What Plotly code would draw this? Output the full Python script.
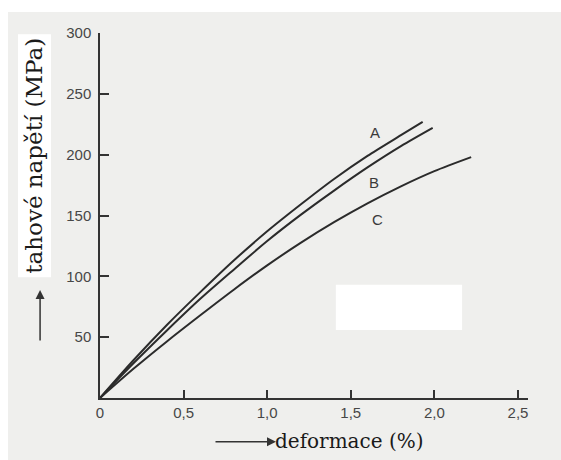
import plotly.graph_objects as go

# Data (deformace in %, tahové napětí in MPa)
strain_A = [0, 0.2, 0.4, 0.6, 0.8, 1.0, 1.2, 1.4, 1.6, 1.8, 1.93]
stress_A = [0, 31, 60, 87, 113, 137, 159, 180, 199, 216, 227]

strain_B = [0, 0.2, 0.4, 0.6, 0.8, 1.0, 1.2, 1.4, 1.6, 1.8, 1.99]
stress_B = [0, 28.5, 55.5, 81.5, 105.5, 129, 150.5, 170.5, 189.5, 207, 222]

strain_C = [0, 0.2, 0.4, 0.6, 0.8, 1.0, 1.2, 1.4, 1.6, 1.8, 2.0, 2.22]
stress_C = [0, 24, 46.5, 68, 89, 109, 127.5, 144.5, 160, 174, 186.5, 198]

curve_names = ["A", "B", "C"]
label_x = [1.647, 1.637, 1.657]
label_y = [218, 177, 147]

x_tickvals = [0, 0.5, 1.0, 1.5, 2.0, 2.5]
x_ticktext = ["0", "0,5", "1,0", "1,5", "2,0", "2,5"]
y_tickvals = [50, 100, 150, 200, 250, 300]
y_ticktext = ["50", "100", "150", "200", "250", "300"]

line_color = "#2b2b2b"
tick_font = dict(family="Liberation Sans, Arial, sans-serif", size=15, color="#474747")

fig = go.Figure()
for xs, ys, nm in zip([strain_A, strain_B, strain_C], [stress_A, stress_B, stress_C], curve_names):
    fig.add_trace(go.Scatter(x=xs, y=ys, mode="lines", name=nm,
                             line=dict(color=line_color, width=2, shape="spline", smoothing=0.8),
                             showlegend=False, hoverinfo="skip"))

# curve labels
for nm, lx, ly in zip(curve_names, label_x, label_y):
    fig.add_annotation(x=lx, y=ly, text=nm, showarrow=False,
                       xanchor="center", yanchor="middle",
                       font=dict(family="Liberation Sans Narrow, Liberation Sans, sans-serif",
                                 size=15, color="#3a3a3a"))

# axis titles with arrows
fig.add_annotation(xref="paper", yref="paper", x=-0.154, y=0.664,
                   xanchor="center", yanchor="middle",
                   text="tahové napětí (MPa)", textangle=-90, showarrow=False,
                   font=dict(family="DejaVu Serif, serif", size=23, color="#1a1a1a"),
                   bgcolor="white", borderpad=3)
fig.add_annotation(xref="paper", yref="paper", x=-0.140, y=(398 - 290) / 365,
                   ax=0, ay=52, text="", showarrow=True, arrowhead=2,
                   arrowsize=1.2, arrowwidth=1.5, arrowcolor="#333333")
fig.add_annotation(xref="paper", yref="paper", x=0.584, y=-0.118,
                   xanchor="center", yanchor="middle",
                   text="deformace (%)", showarrow=False,
                   font=dict(family="DejaVu Serif, serif", size=20, color="#1a1a1a"))
fig.add_annotation(xref="paper", yref="paper", x=(276 - 100) / 428, y=-0.120,
                   ax=-62, ay=0, text="", showarrow=True, arrowhead=2,
                   arrowsize=1.2, arrowwidth=1.5, arrowcolor="#333333")

# scan background and pasted white patch
fig.add_shape(type="rect", xref="paper", yref="paper", layer="below",
              x0=-0.215, x1=1.08, y0=-0.18, y1=1.0575,
              fillcolor="#efefed", line=dict(width=0))
fig.add_shape(type="rect", xref="paper", yref="paper", layer="below",
              x0=0.551, x1=0.846, y0=0.186, y1=0.310,
              fillcolor="#ffffff", line=dict(width=0))

fig.update_xaxes(range=[0, 2.56], showgrid=False, zeroline=False,
                 showline=True, linecolor="#333333", linewidth=1.5,
                 ticks="inside", ticklen=8, tickwidth=1.5, tickcolor="#333333",
                 tickvals=x_tickvals, ticktext=x_ticktext, tickfont=tick_font)
fig.update_yaxes(range=[0, 300], showgrid=False, zeroline=False,
                 showline=True, linecolor="#333333", linewidth=1.5,
                 ticks="inside", ticklen=9, tickwidth=1.5, tickcolor="#333333",
                 tickvals=y_tickvals, ticktext=y_ticktext, tickfont=tick_font,
                 ticklabelstandoff=4)

fig.update_layout(width=561, height=460,
                  margin=dict(l=100, r=33, t=33, b=62),
                  paper_bgcolor="white", plot_bgcolor="rgba(0,0,0,0)",
                  showlegend=False)

fig.write_html("out.html", config={"displayModeBar": False},
               post_script="document.body.style.margin='0';")
